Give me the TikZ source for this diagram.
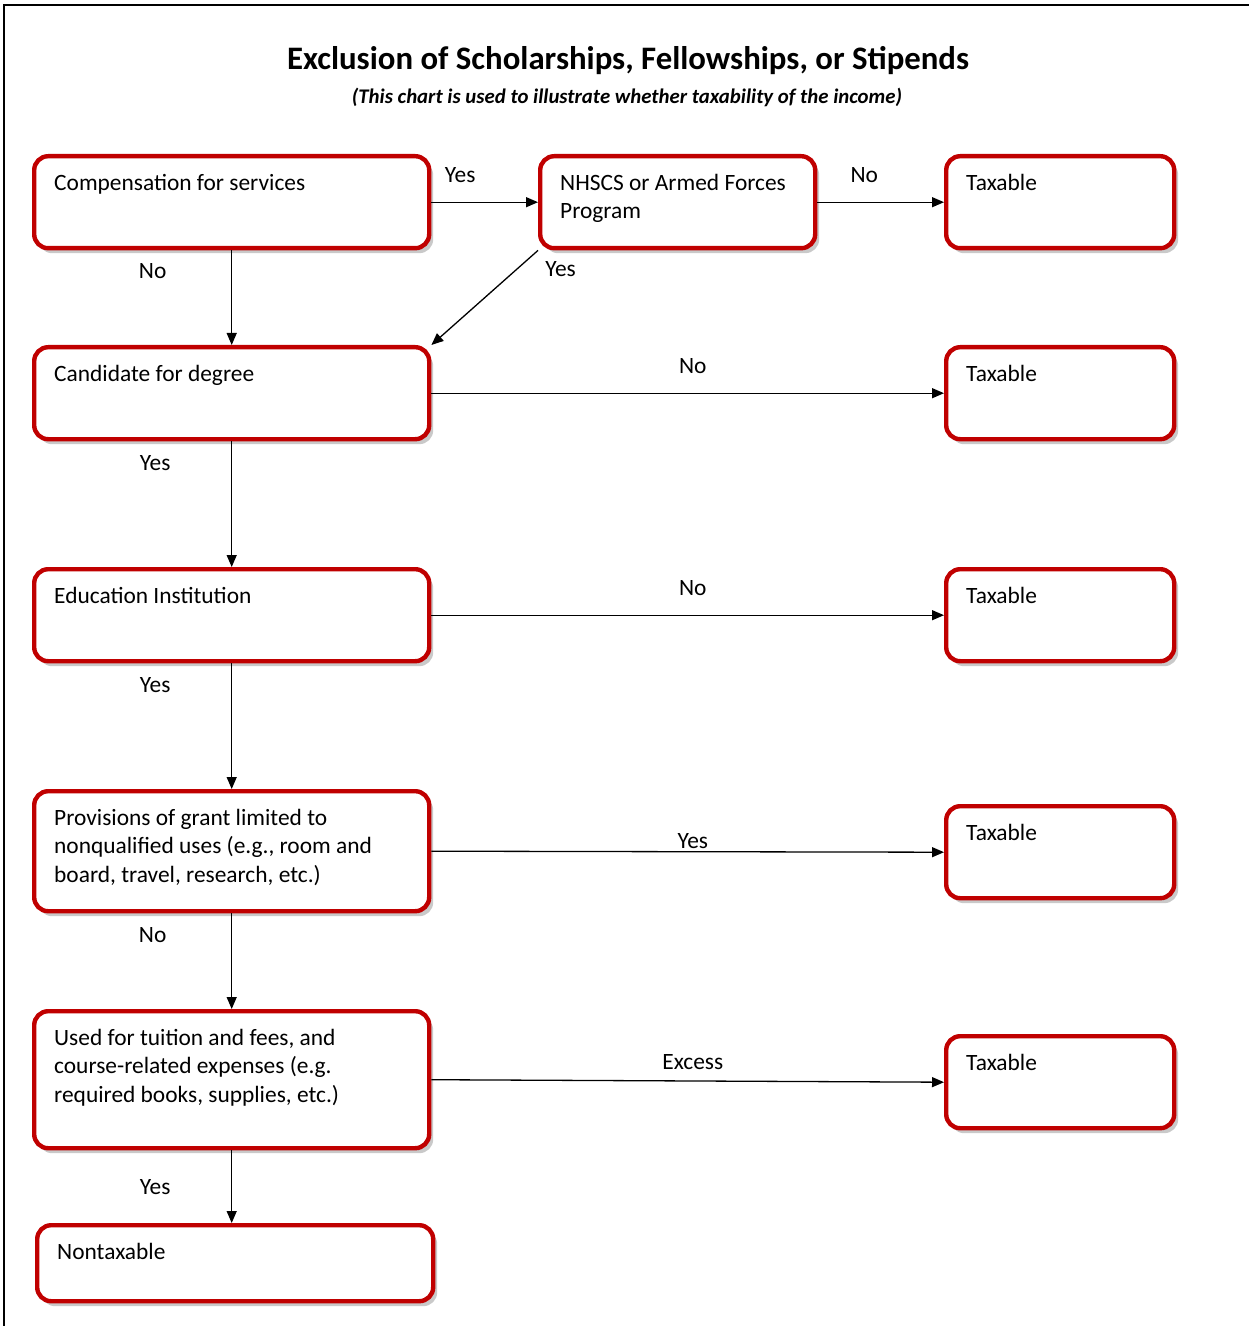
\documentclass[tikz,border=0pt]{standalone}
\usepackage{fontspec}
\setmainfont{Carlito}
\usetikzlibrary{shadows, arrows.meta}
\definecolor{boxred}{HTML}{C00000}
% text of a box: top left, fixed width and height
\newcommand{\boxtext}[3]{\parbox[c][\dimexpr #2-14pt\relax][t]{\dimexpr #1-20pt\relax}{\raggedright\strut #3}}

\begin{document}
\begin{tikzpicture}[x=0.5pt, y=-0.5pt, >={Triangle[length=6pt,width=5pt]}]
    \tikzset{box/.style={rectangle, draw=boxred, line width=2.2pt, rounded corners=7pt, fill=white,
        drop shadow={shadow xshift=2pt, shadow yshift=-2.5pt, fill=black!30, opacity=0.7},
        inner xsep=10pt, inner ysep=7pt, anchor=north west, font=\fontsize{11.7}{14.3}\selectfont}}
    \tikzset{link/.style={->, line width=0.65pt}}
    \tikzset{answer/.style={font=\fontsize{11.7}{14.3}\selectfont}}
    \useasboundingbox (0,0) rectangle (1249,1326);
    % frame
    \draw[line width=1.1pt] (4,1326) -- (4,5) -- (1249,5);
    % Title
    \node[font=\fontsize{16.4}{19}\selectfont\bfseries] (title) at (628,61) {Exclusion of Scholarships, Fellowships, or Stipends};
    \node[font=\fontsize{10.4}{12}\selectfont\bfseries\itshape] (subtitle) at (627,97) {(This chart is used to illustrate whether taxability of the income)};

    % Boxes
    \node[box] (comp) at (32,154) {\boxtext{197.5pt}{46pt}{Compensation for services}};
    \node[box] (nhscs) at (538,154) {\boxtext{137.5pt}{46pt}{NHSCS or Armed Forces\\Program}};
    \node[box] (tax1) at (944,154) {\boxtext{114pt}{46pt}{Taxable}};
    \node[box] (cand) at (32,345) {\boxtext{197.5pt}{46pt}{Candidate for degree}};
    \node[box] (tax2) at (944,345) {\boxtext{114pt}{46pt}{Taxable}};
    \node[box] (edu) at (32,567) {\boxtext{197.5pt}{46pt}{Education Institution}};
    \node[box] (tax3) at (944,567) {\boxtext{114pt}{46pt}{Taxable}};
    \node[box] (prov) at (32,789) {\boxtext{197.5pt}{60pt}{Provisions of grant limited to\\nonqualified uses (e.g., room and\\board, travel, research, etc.)}};
    \node[box] (tax4) at (944,804) {\boxtext{114pt}{46pt}{Taxable}};
    \node[box] (used) at (32,1009) {\boxtext{197.5pt}{68.5pt}{Used for tuition and fees, and\\course-related expenses (e.g.\\required books, supplies, etc.)}};
    \node[box] (tax5) at (944,1034) {\boxtext{114pt}{46pt}{Taxable}};
    \node[box] (nontax) at (35,1223) {\boxtext{198pt}{38pt}{Nontaxable}};

    % Connectors
    \draw[link] (comp.east) -- (nhscs.west) node[answer, pos=0.27, above=6pt] {Yes};
    \draw[link] (nhscs.east) -- (tax1.west) node[answer, pos=0.37, above=6pt] {No};
    \draw[link] (comp.south) -- (cand.north) node[answer, pos=0.22, left=29pt] {No};
    \draw[link] (nhscs.south west) -- (cand.north east) node[answer, pos=0, anchor=north west, yshift=-2pt] {Yes};
    \draw[link] (cand.east) -- (tax2.west) node[answer, pos=0.51, above=6pt] {No};
    \draw[link] (cand.south) -- (edu.north) node[answer, pos=0.17, left=27pt] {Yes};
    \draw[link] (edu.east) -- (tax3.west) node[answer, pos=0.51, above=6pt] {No};
    \draw[link] (edu.south) -- (prov.north) node[answer, pos=0.17, left=27pt] {Yes};
    \draw[link] (prov.east) -- (tax4.west) node[answer, pos=0.51, above, inner sep=1pt] {Yes};
    \draw[link] (prov.south) -- (used.north) node[answer, pos=0.23, left=29pt] {No};
    \draw[link] (used.east) -- (tax5.west) node[answer, pos=0.51, above=2pt] {Excess};
    \draw[link] (used.south) -- (used.south |- nontax.north) node[answer, pos=0.51, left=27pt] {Yes};
\end{tikzpicture}
\end{document}
